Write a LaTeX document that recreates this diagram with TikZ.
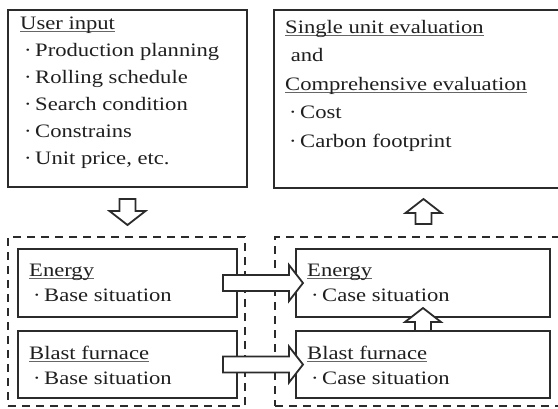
\documentclass[tikz,border=0pt]{standalone}
\usepackage{fontspec}
\setmainfont{Liberation Serif}[FakeStretch=1.19]
\usetikzlibrary{calc}

\definecolor{inkgray}{HTML}{2B2B2B}
\tikzset{
  box/.style={draw=inkgray, line width=2.2pt, inner sep=0pt, outer sep=0pt},
  groupbox/.style={draw=inkgray, line width=2.4pt, dash pattern=on 8pt off 6pt, inner sep=0pt, outer sep=0pt},
  boxtext/.style={anchor=north west, inner sep=0pt, align=left, text=black!88, font=\fontsize{19}{27}\selectfont},
  hollow/.style={draw=inkgray, line width=1.8pt, fill=white, line join=miter},
}
\newcommand{\itm}{\hspace*{4pt}·\hspace{3.5pt}}
\newcommand{\ulined}[1]{\setbox0\hbox{#1}\rlap{\textcolor{black!60}{\rule[-2.6pt]{\wd0}{0.9pt}}}\box0}
\def\fatarrow(#1)(#2){\draw[hollow] ($(#1)!8pt!90:(#2)$) -- ($(#2)!14pt!(#1)!8pt!-90:(#1)$) -- ($(#2)!14pt!(#1)!18pt!-90:(#1)$) -- (#2) -- ($(#2)!14pt!(#1)!18pt!90:(#1)$) -- ($(#2)!14pt!(#1)!8pt!90:(#1)$) -- ($(#1)!8pt!-90:(#2)$) -- cycle;}

\begin{document}
\begin{tikzpicture}[x=1pt, y=-1pt]
	%%%%% START %%%%%
	\useasboundingbox (0,0) rectangle (558,408);
	\clip (0,0) rectangle (558,408);
	
	% upper boxes
	\node[box, minimum width=239pt, minimum height=177pt] (input) at (127.5,98.5) {};
	\node[box, minimum width=326pt, minimum height=178pt] (eval) at (437,99) {};
	
	% dashed groups
	\node[groupbox, minimum width=237pt, minimum height=169pt] (basegrp) at (126.5,321.5) {};
	\node[groupbox, minimum width=345pt, minimum height=169pt] (casegrp) at (447.5,321.5) {};
	
	% inner boxes
	\node[box, minimum width=219pt, minimum height=68pt] (energyA) at (127.5,283) {};
	\node[box, minimum width=219pt, minimum height=67pt] (furnaceA) at (127.5,364.5) {};
	\node[box, minimum width=254pt, minimum height=68pt] (energyB) at (423,283) {};
	\node[box, minimum width=254pt, minimum height=67pt] (furnaceB) at (423,364.5) {};
	
	% texts
	\node[boxtext] (inputtxt) at ($(input.north west)+(12,7)$) {\ulined{User input}\\\itm Production planning\\\itm Rolling schedule\\\itm Search condition\\\itm Constrains\\\itm Unit price, etc.};
	\node[boxtext, font=\fontsize{19}{28.5}\selectfont] (evaltxt) at ($(eval.north west)+(11,10)$) {\ulined{Single unit evaluation}\\\ and\\\ulined{Comprehensive evaluation}\\\itm Cost\\\itm Carbon footprint};
	\node[boxtext, font=\fontsize{19}{25}\selectfont] (energyAtxt) at ($(energyA.north west)+(11,15)$) {\ulined{Energy}\\\itm Base situation};
	\node[boxtext, font=\fontsize{19}{25}\selectfont] (furnaceAtxt) at ($(furnaceA.north west)+(11,15)$) {\ulined{Blast furnace}\\\itm Base situation};
	\node[boxtext, font=\fontsize{19}{25}\selectfont] (energyBtxt) at ($(energyB.north west)+(11,15)$) {\ulined{Energy}\\\itm Case situation};
	\node[boxtext, font=\fontsize{19}{25}\selectfont] (furnaceBtxt) at ($(furnaceB.north west)+(11,15)$) {\ulined{Blast furnace}\\\itm Case situation};
	
	% arrow ends
	\coordinate (dn0) at ($(input.south)+(0,12)$);
	\coordinate (dn1) at ($(dn0)+(0,26)$);
	\coordinate (up0) at ($(energyB.north)+(0.5,-25)$);
	\coordinate (up1) at ($(up0)+(0,-25)$);
	\coordinate (e0) at ($(energyA.east)+(-14,0)$);
	\coordinate (e1) at ($(energyB.west)+(7,0)$);
	\coordinate (f0) at ($(furnaceA.east)+(-14,0)$);
	\coordinate (f1) at ($(furnaceB.west)+(7,0)$);
	\coordinate (v1) at ($(energyB.south)+(0,-9)$);
	
	% block arrows
	\fatarrow(dn0)(dn1)
	\fatarrow(up0)(up1)
	\fatarrow(e0)(e1)
	\fatarrow(f0)(f1)
	\fatarrow(furnaceB.north)(v1)
	%%%%% END %%%%%
\end{tikzpicture}
\end{document}
